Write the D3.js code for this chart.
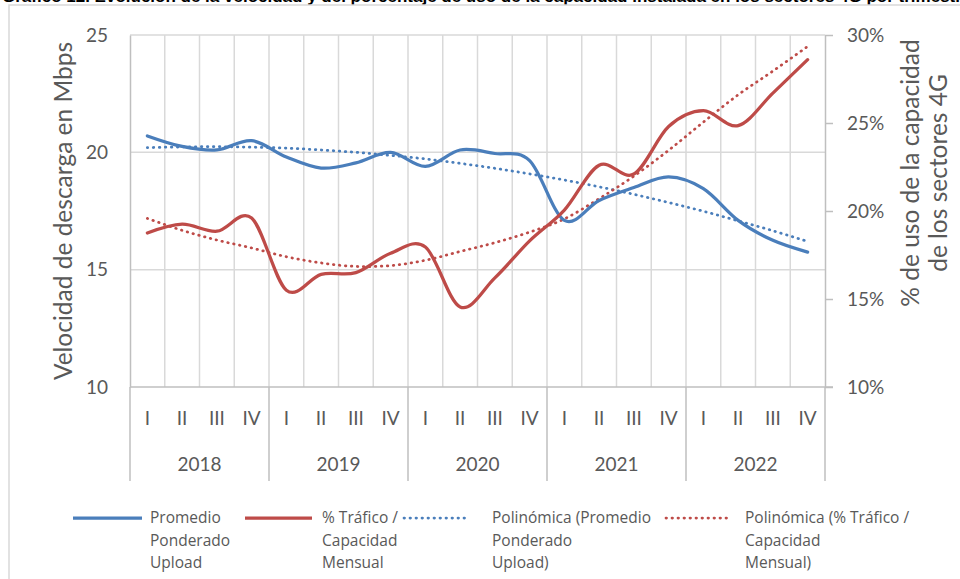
<!DOCTYPE html>
<html>
<head>
<meta charset="utf-8">
<script src="https://cdn.jsdelivr.net/npm/d3@7"></script>
<style>
  body { margin: 0; background: #fff; }
  text { font-family: Lato, "Open Sans", sans-serif; fill: #595959; }
  .legend text { font-family: "Open Sans", sans-serif; }
</style>
</head>
<body>
<div id="chart"></div>
<script>
// data
var years = ["2018", "2019", "2020", "2021", "2022"];
var quarters = ["I", "II", "III", "IV"];
var upload = [20.7, 20.25, 20.1, 20.5, 19.8, 19.33, 19.55, 20.0, 19.4, 20.1, 19.95, 19.65,
              17.1, 17.95, 18.5, 18.95, 18.45, 17.1, 16.25, 15.75];
var trafico = [18.75, 19.25, 18.85, 19.6, 15.5, 16.4, 16.5, 17.6, 17.95, 14.55, 16.2, 18.3,
               20.05, 22.6, 22.1, 24.8, 25.7, 24.85, 26.7, 28.6];
var uploadTrend = [20.2, 20.23, 20.24, 20.22, 20.18, 20.1, 20.0, 19.87, 19.72, 19.53, 19.32, 19.08,
                   18.82, 18.53, 18.21, 17.86, 17.49, 17.08, 16.66, 16.2];
var traficoTrend = [19.58, 18.9, 18.35, 17.9, 17.4, 17.05, 16.85, 16.9, 17.2, 17.7, 18.2, 18.8,
                    19.55, 20.7, 21.98, 23.45, 25.05, 26.6, 27.95, 29.35];
var leftTicks = [10, 15, 20, 25];
var rightTicks = [10, 15, 20, 25, 30];

var width = 960, height = 579;
var plot = {left: 130, right: 825, top: 35, bottom: 387};
var blue = "#4a7ebb", red = "#be4b48";

var svg = d3.select("#chart").append("svg")
    .attr("width", width)
    .attr("height", height);

// title of the page above (cut off) and the frame
svg.append("text")
    .attr("x", 2).attr("y", 1.5)
    .style("font-family", "'Liberation Sans', sans-serif")
    .style("font-weight", "bold").style("font-size", "17px").style("fill", "#000")
    .text("Gráfico 12. Evolución de la velocidad y del porcentaje de uso de la capacidad instalada en los sectores 4G por trimestre");
svg.append("rect")
    .attr("x", 9).attr("y", 5).attr("width", 1000).attr("height", 700)
    .attr("fill", "#fff").attr("stroke", "#d9d9d9").attr("stroke-width", 1.5);

var cats = [];
years.forEach(y => quarters.forEach(q => cats.push(y + "-" + q)));

var x = d3.scaleBand().domain(cats).range([plot.left, plot.right]).padding(0);
var yL = d3.scaleLinear().domain([10, 25]).range([plot.bottom, plot.top]);
var yR = d3.scaleLinear().domain([10, 30]).range([plot.bottom, plot.top]);
var cx = i => x(cats[i]) + x.bandwidth() / 2;

// gridlines
svg.append("g").selectAll("line")
    .data(leftTicks.slice(1))
    .join("line")
    .attr("x1", plot.left).attr("x2", plot.right)
    .attr("y1", d => yL(d)).attr("y2", d => yL(d))
    .attr("stroke", "#d9d9d9").attr("stroke-width", 1.5);
svg.append("g").selectAll("line")
    .data(cats.slice(1))
    .join("line")
    .attr("x1", d => x(d)).attr("x2", d => x(d))
    .attr("y1", plot.top).attr("y2", plot.bottom)
    .attr("stroke", "#d9d9d9").attr("stroke-width", 1.5);

// left axis
var gl = svg.append("g")
    .attr("transform", `translate(${plot.left},0)`)
    .call(d3.axisLeft(yL).tickValues(leftTicks).tickSize(0).tickPadding(22));
gl.select(".domain").attr("stroke", "#bfbfbf").attr("stroke-width", 1.5);
gl.selectAll("text").style("font-size", "19px").style("font-family", "Lato");

// right axis
var gr = svg.append("g")
    .attr("transform", `translate(${plot.right},0)`)
    .call(d3.axisRight(yR).tickValues(rightTicks).tickFormat(d => d + "%")
        .tickSize(8).tickSizeOuter(0).tickPadding(14));
gr.selectAll(".domain, line").attr("stroke", "#bfbfbf").attr("stroke-width", 1.5);
gr.selectAll("text").style("font-size", "19px").style("font-family", "Lato");

// category axis (quarters + years)
var gb = svg.append("g");
gb.append("line")
    .attr("x1", plot.left).attr("x2", plot.right + 8)
    .attr("y1", plot.bottom).attr("y2", plot.bottom)
    .attr("stroke", "#bfbfbf").attr("stroke-width", 1.5);
var yearEdges = years.map(y => x(y + "-I")).concat([plot.right]);
gb.selectAll(".sep")
    .data(yearEdges)
    .join("line")
    .attr("x1", d => d).attr("x2", d => d)
    .attr("y1", plot.bottom).attr("y2", 481)
    .attr("stroke", "#bfbfbf").attr("stroke-width", 1.5);
gb.selectAll(".q")
    .data(cats)
    .join("text")
    .attr("x", d => x(d) + x.bandwidth() / 2)
    .attr("y", 418)
    .attr("dy", "0.35em")
    .attr("text-anchor", "middle")
    .style("font-size", "19px")
    .text(d => d.split("-")[1]);
gb.selectAll(".yr")
    .data(years)
    .join("text")
    .attr("x", d => x(d + "-I") + x.bandwidth() * 2)
    .attr("y", 464)
    .attr("dy", "0.35em")
    .attr("text-anchor", "middle")
    .style("font-size", "19px")
    .text(d => d);

// axis titles
svg.append("text")
    .attr("transform", "translate(63,211) rotate(-90)")
    .attr("text-anchor", "middle").attr("dy", "0.35em")
    .style("font-size", "24.5px")
    .text("Velocidad de descarga en Mbps");
var rt = svg.append("text")
    .attr("transform", "translate(924,173) rotate(-90)")
    .attr("text-anchor", "middle")
    .style("font-size", "24.5px");
rt.append("tspan").attr("x", 0).attr("dy", "-0.2em").text("% de uso de la capacidad");
rt.append("tspan").attr("x", 0).attr("dy", "1.15em").text("de los sectores 4G");

// lines
var lineL = d3.line().x((d, i) => cx(i)).y(d => yL(d)).curve(d3.curveCardinal.tension(0));
var lineR = d3.line().x((d, i) => cx(i)).y(d => yR(d)).curve(d3.curveCardinal.tension(0));

svg.append("path").datum(uploadTrend)
    .attr("d", lineL).attr("fill", "none")
    .attr("stroke", blue).attr("stroke-width", 2.75)
    .attr("stroke-dasharray", "0.5 5.5").attr("stroke-linecap", "round");
svg.append("path").datum(traficoTrend)
    .attr("d", lineR).attr("fill", "none")
    .attr("stroke", red).attr("stroke-width", 2.75)
    .attr("stroke-dasharray", "0.5 5.5").attr("stroke-linecap", "round");
svg.append("path").datum(upload)
    .attr("d", lineL).attr("fill", "none")
    .attr("stroke", blue).attr("stroke-width", 3.25).attr("stroke-linecap", "round");
svg.append("path").datum(trafico)
    .attr("d", lineR).attr("fill", "none")
    .attr("stroke", red).attr("stroke-width", 3.25).attr("stroke-linecap", "round");

// legend
var legendItems = [
    {color: blue, dash: null, x: 73, len: 69, tx: 150, lines: ["Promedio", "Ponderado", "Upload"]},
    {color: red, dash: null, x: 245, len: 67, tx: 322, lines: ["% Tráfico /", "Capacidad", "Mensual"]},
    {color: blue, dash: "0.5 5.5", x: 404, len: 64, tx: 492, lines: ["Polinómica (Promedio", "Ponderado", "Upload)"]},
    {color: red, dash: "0.5 5.5", x: 666, len: 62, tx: 745, lines: ["Polinómica (% Tráfico /", "Capacidad", "Mensual)"]}
];
var lg = svg.append("g").attr("class", "legend");
legendItems.forEach(function(d) {
    lg.append("line")
        .attr("x1", d.x).attr("x2", d.x + d.len)
        .attr("y1", 518).attr("y2", 518)
        .attr("stroke", d.color)
        .attr("stroke-width", d.dash ? 2.75 : 3.25)
        .attr("stroke-dasharray", d.dash)
        .attr("stroke-linecap", d.dash ? "round" : "butt");
    lg.selectAll(null)
        .data(d.lines)
        .join("text")
        .attr("x", d.tx)
        .attr("y", (t, i) => 518 + i * 22.5)
        .attr("dy", "0.35em")
        .style("font-size", "15.5px")
        .text(t => t);
});
</script>
</body>
</html>
